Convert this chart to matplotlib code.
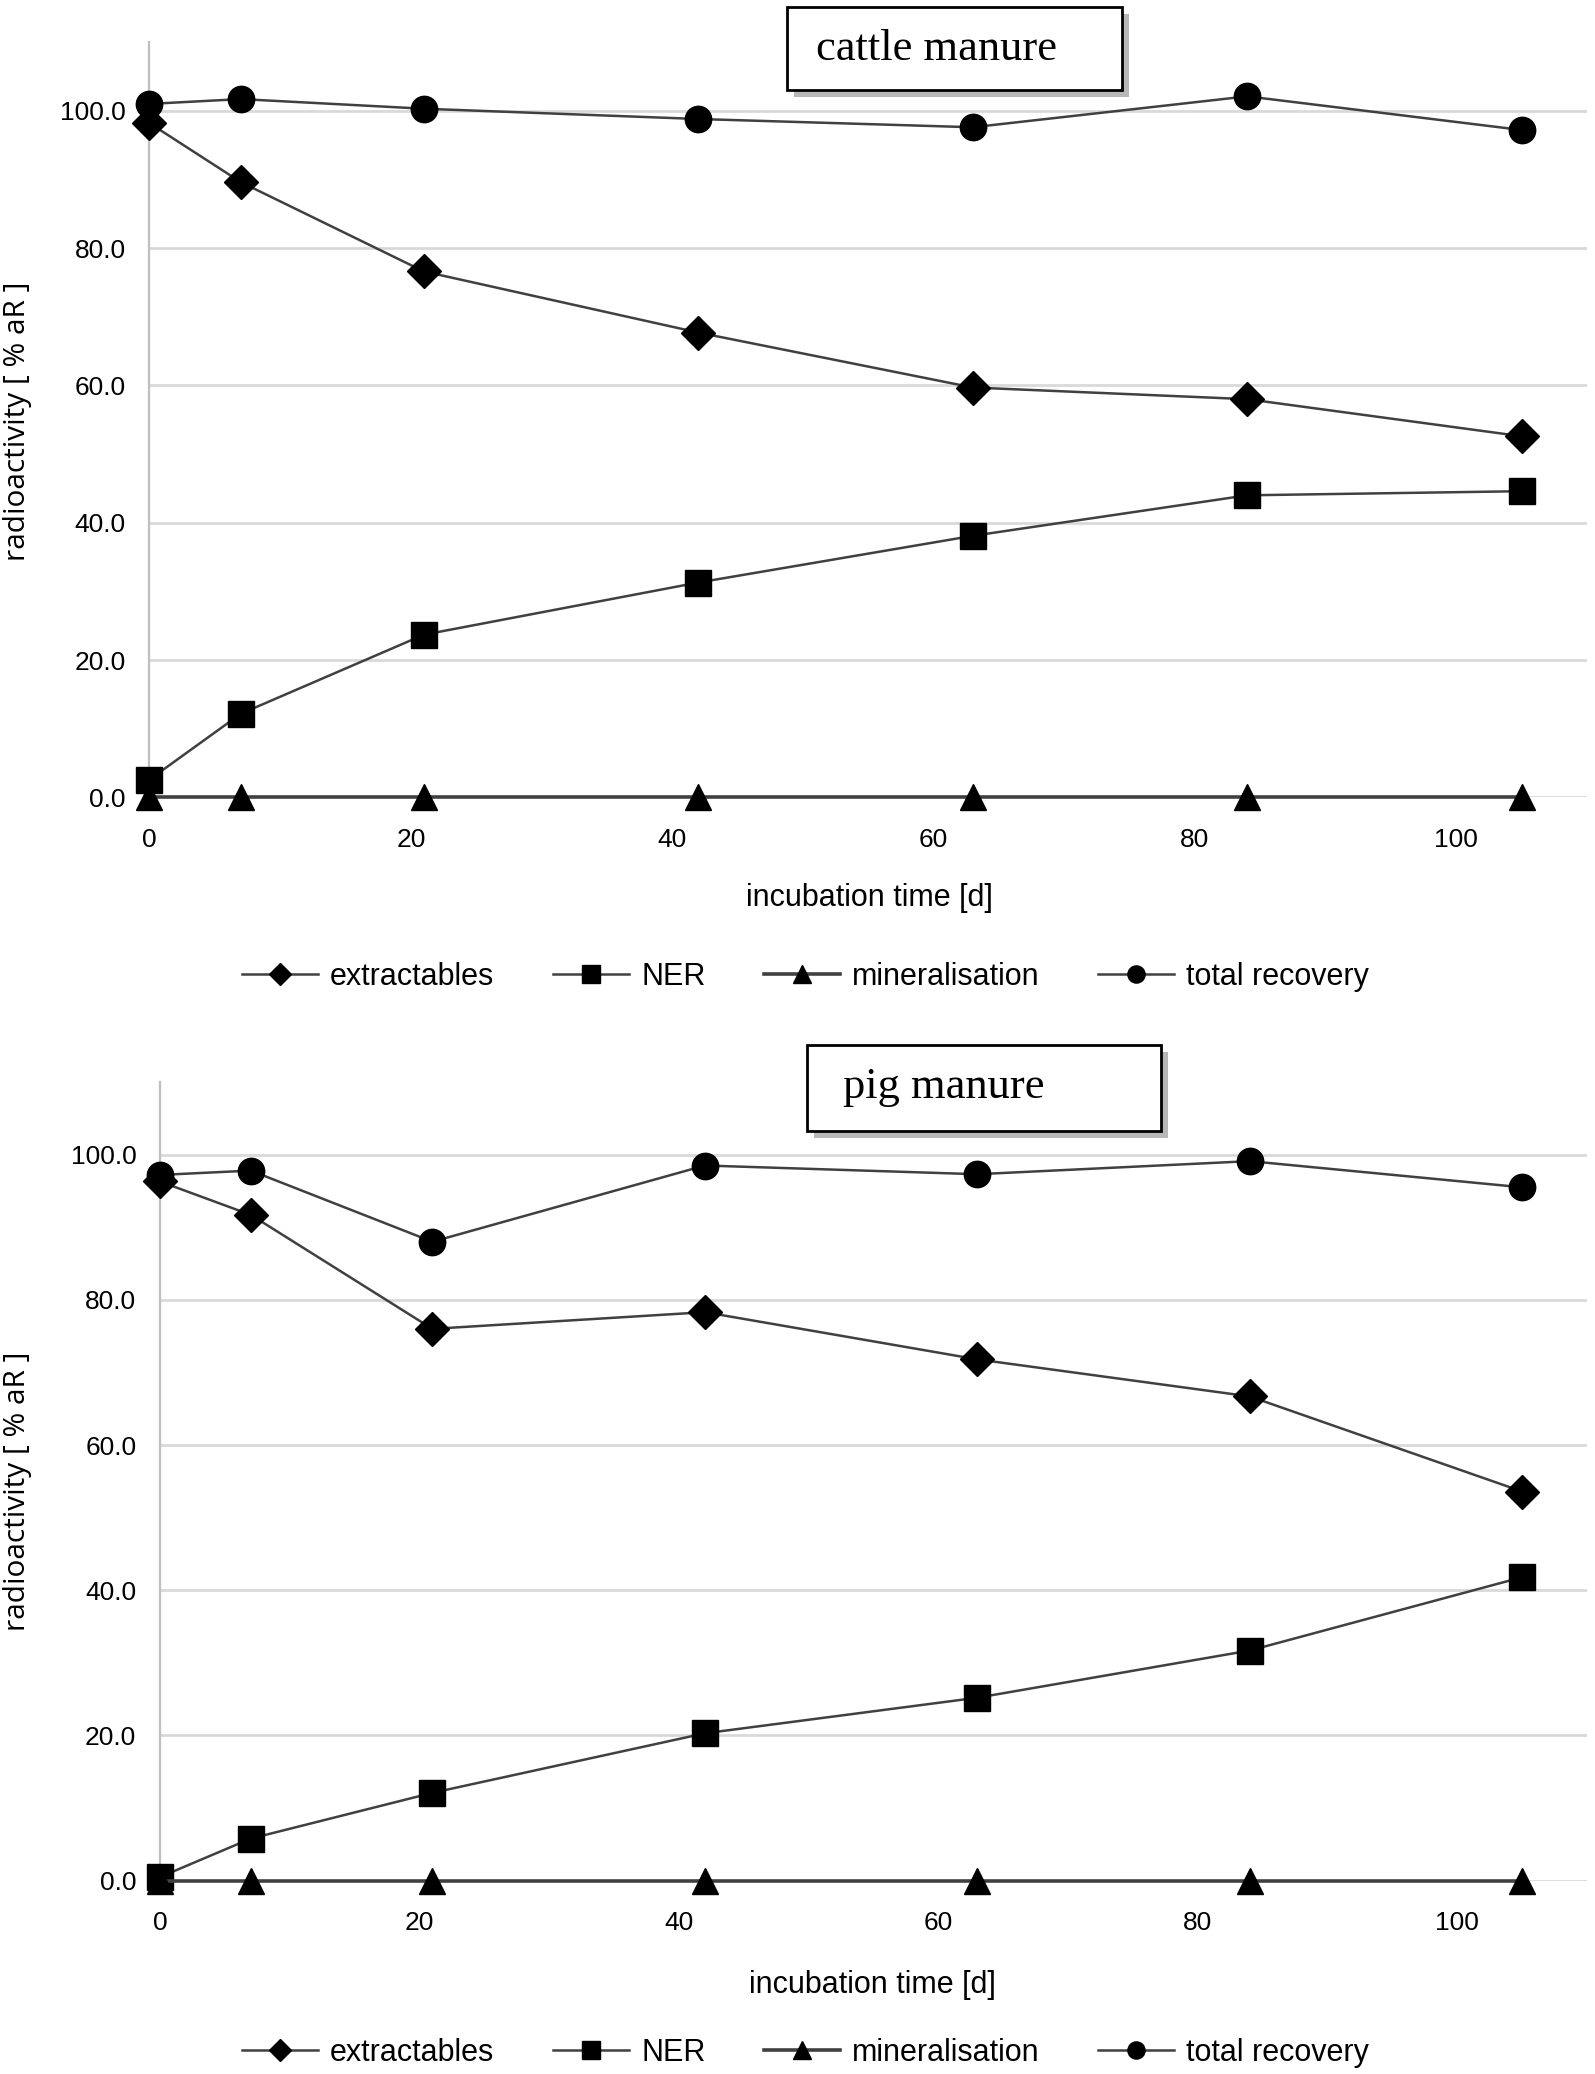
import matplotlib
matplotlib.use("Agg")
import matplotlib.pyplot as plt
import matplotlib.patheffects as pe
from matplotlib.patches import Rectangle

plt.rcParams["font.family"] = ["Liberation Sans", "DejaVu Sans"]

# Waktu inkubasi (hari)
days = [0, 7, 21, 42, 63, 84, 105]

# cattle manure
cattle_extract = [98.2, 89.6, 76.6, 67.7, 59.7, 58.0, 52.6]
cattle_ner = [2.6, 12.2, 23.7, 31.3, 38.1, 44.0, 44.6]
cattle_mineral = [0.0, 0.0, 0.0, 0.0, 0.0, 0.0, 0.0]
cattle_total = [101.0, 101.7, 100.3, 98.8, 97.6, 102.1, 97.2]

# pig manure
pig_extract = [96.3, 91.7, 76.0, 78.3, 71.8, 66.7, 53.6]
pig_ner = [0.5, 5.8, 12.1, 20.3, 25.2, 31.7, 41.8]
pig_mineral = [0.0, 0.0, 0.0, 0.0, 0.0, 0.0, 0.0]
pig_total = [97.2, 97.8, 88.0, 98.5, 97.3, 99.1, 95.5]

series_names = ["extractables", "NER", "mineralisation", "total recovery"]
series_markers = ["D", "s", "^", "o"]
marker_sizes = [17, 19, 19, 19]
line_widths = [1.8, 1.8, 2.6, 1.8]

x_ticks = [0, 20, 40, 60, 80, 100]
y_ticks = [0, 20, 40, 60, 80, 100]

LINE_COLOR = "#404040"


def draw_panel(ax, data):
    lines = []
    for vals, name, mk, ms, lw in zip(data, series_names, series_markers,
                                      marker_sizes, line_widths):
        (ln,) = ax.plot(days, vals, color=LINE_COLOR, lw=lw, marker=mk,
                        markersize=ms, markerfacecolor="black",
                        markeredgecolor="black", label=name, clip_on=False,
                        zorder=3)
        lines.append(ln)
    ax.set_xlim(0, 110)
    ax.set_ylim(0, 110)
    ax.set_xticks(x_ticks)
    ax.set_yticks(y_ticks)
    ax.set_yticklabels([f"{v:.1f}" for v in y_ticks])
    ax.yaxis.grid(True, color="#d9d9d9", lw=2)
    ax.set_axisbelow(True)
    for s in ["top", "right", "bottom"]:
        ax.spines[s].set_visible(False)
    ax.spines["left"].set_color("#bfbfbf")
    ax.spines["left"].set_linewidth(1.6)
    ax.tick_params(axis="both", length=0, labelsize=19)
    ax.tick_params(axis="y", pad=17)
    ax.tick_params(axis="x", pad=22)
    return lines


def title_box(fig, x0, y0, w, h, text, tx, ty):
    rect = Rectangle((x0, y0), w, h, transform=fig.transFigure,
                     facecolor="white", edgecolor="black", lw=2,
                     path_effects=[pe.SimplePatchShadow(offset=(5, -5), alpha=0.4),
                                   pe.Normal()])
    fig.patches.append(rect)
    fig.text(tx, ty, text, family="Liberation Serif", fontsize=32,
             ha="center", va="center")


fig = plt.figure(figsize=(15.95, 20.74), dpi=100)

ax1 = fig.add_axes([0.0937, 0.6155, 0.9013, 0.3642])
lines = draw_panel(ax1, [cattle_extract, cattle_ner, cattle_mineral, cattle_total])

ax2 = fig.add_axes([0.1003, 0.0932, 0.8947, 0.3851])
draw_panel(ax2, [pig_extract, pig_ner, pig_mineral, pig_total])

# label sumbu
fig.text(0.545, 0.567, "incubation time [d]", fontsize=22, ha="center", va="center")
fig.text(0.547, 0.0429, "incubation time [d]", fontsize=22, ha="center", va="center")
for yc in [0.797, 0.281]:
    fig.text(0.0107, yc, "radioactivity [ % aR ]", family=["Open Sans", "DejaVu Sans"],
             fontsize=21.5, rotation=90, ha="center", va="center")

# legenda di bawah tiap panel
for yc in [0.529, 0.0101]:
    fig.legend(handles=lines, labels=series_names, loc="center",
               bbox_to_anchor=(0.505, yc), ncol=4, frameon=False, fontsize=22,
               handlelength=2.5, handletextpad=0.4, columnspacing=1.9,
               markerscale=0.65)

# kotak judul
title_box(fig, 0.4934, 0.9566, 0.210, 0.0402, "cattle manure", 0.587, 0.9764)
title_box(fig, 0.506, 0.4547, 0.222, 0.0414, "pig manure", 0.592, 0.4759)

fig.savefig("out.png", dpi=100)
